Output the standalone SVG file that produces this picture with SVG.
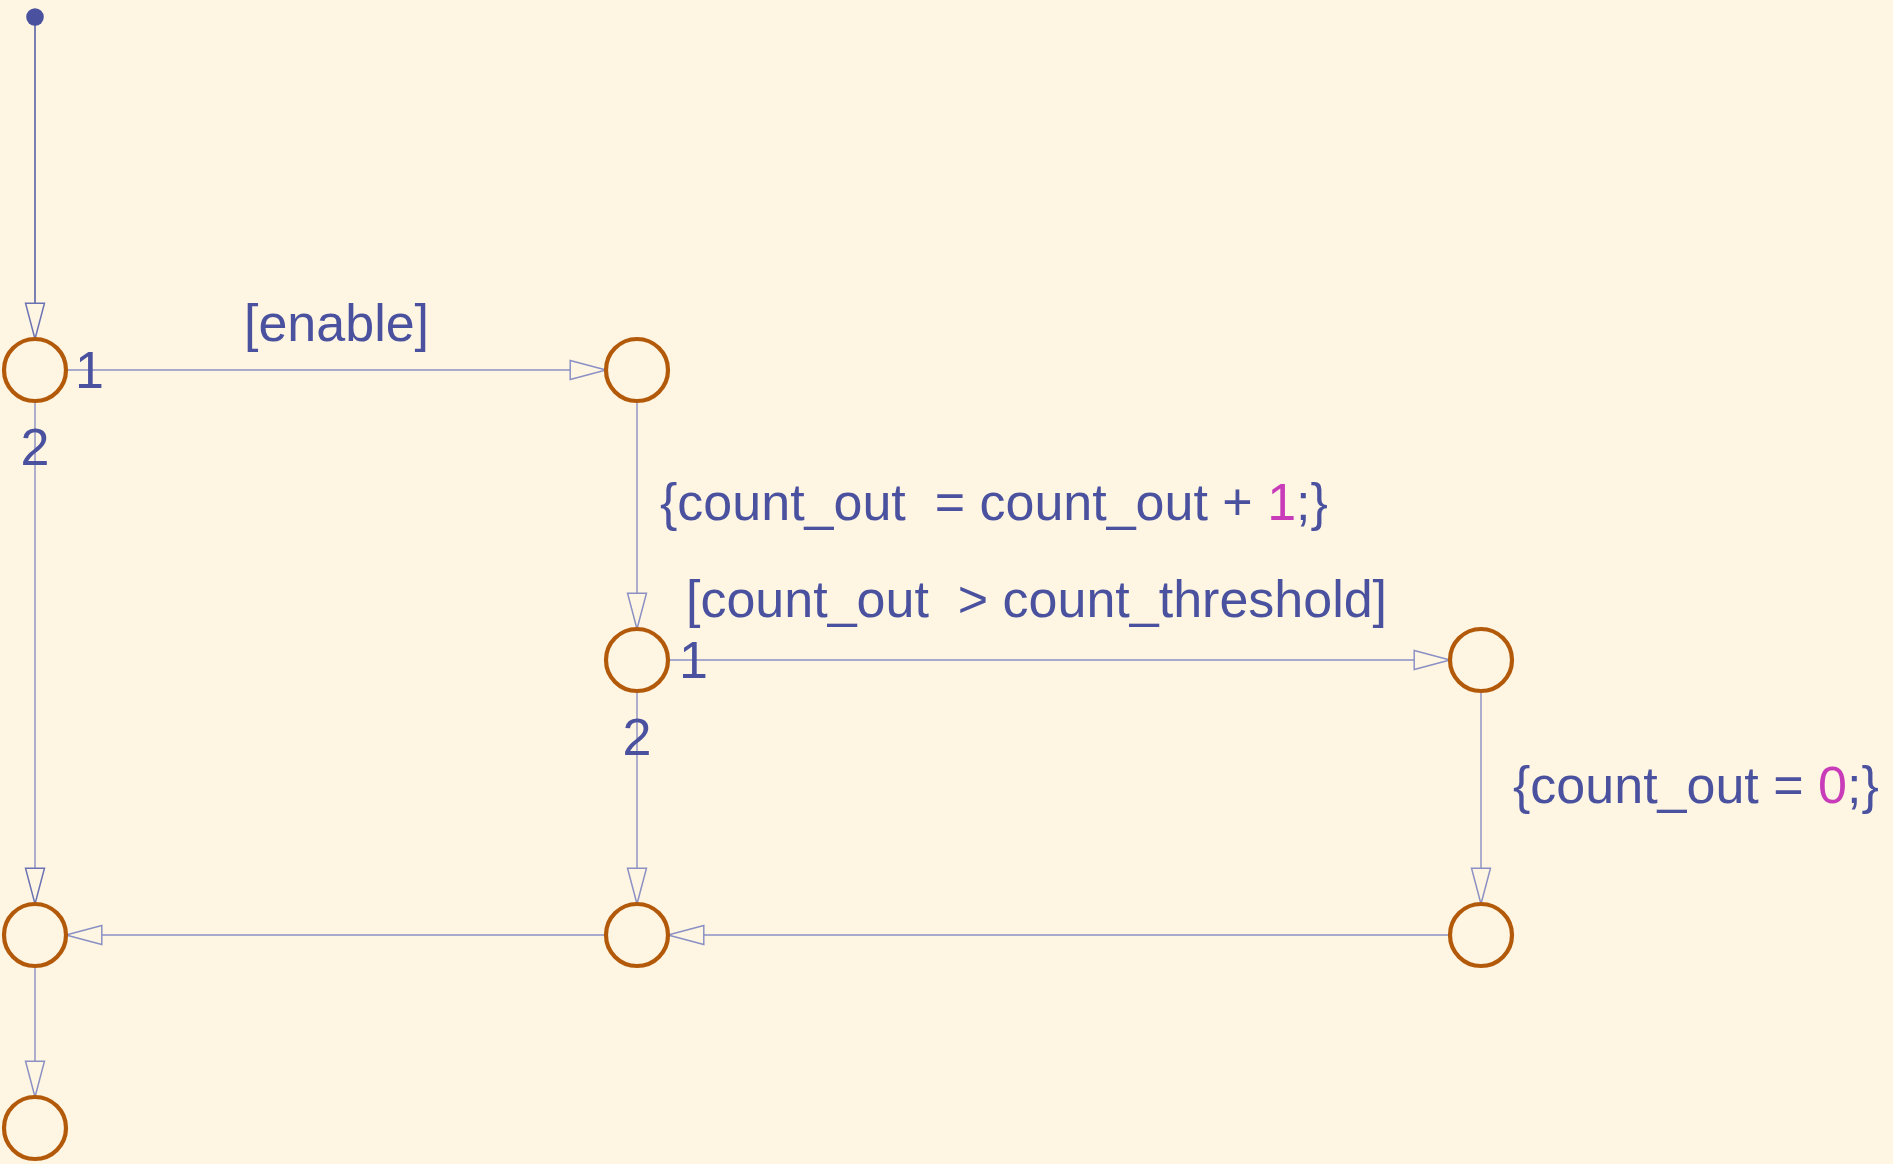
<svg xmlns="http://www.w3.org/2000/svg" width="1893" height="1164" viewBox="0 0 1893 1164">
<style>
.bg{fill:#fef5e2}
.j{fill:none;stroke:#b35a0a;stroke-width:4.2}
.c{fill:none;stroke:#8a90c4;stroke-width:1.4}
.c0{fill:none;stroke:#4f58a2;stroke-width:1.5}
.t{font-family:"Liberation Sans",Arial,sans-serif;font-size:52px;fill:#4a52a0;white-space:pre}
.n{fill:#c83cb9}
</style>
<defs>
<marker id="ah" markerUnits="userSpaceOnUse" markerWidth="40" markerHeight="24" viewBox="-36 -11 38 22" refX="0" refY="0" orient="auto">
<path d="M0,0 L-34,-9 L-34,9 Z" fill="#fef5e2" stroke="#8a90c4" stroke-width="1.4"/>
</marker>
<marker id="ah0" markerUnits="userSpaceOnUse" markerWidth="40" markerHeight="24" viewBox="-36 -11 38 22" refX="0" refY="0" orient="auto">
<path d="M0,0 L-34,-9 L-34,9 Z" fill="#fef5e2" stroke="#6a72b4" stroke-width="1.4"/>
</marker>
</defs>
<rect class="bg" x="0" y="0" width="1893" height="1164"/>
<g id="connectors">
<line class="c0" x1="35" y1="17" x2="35" y2="339" marker-end="url(#ah0)"/>
<line class="c" x1="66" y1="370" x2="606" y2="370" marker-end="url(#ah)"/>
<line class="c" x1="35" y1="401" x2="35" y2="904" marker-end="url(#ah0)"/>
<line class="c" x1="637" y1="401" x2="637" y2="629" marker-end="url(#ah)"/>
<line class="c" x1="668" y1="660" x2="1450" y2="660" marker-end="url(#ah)"/>
<line class="c" x1="637" y1="691" x2="637" y2="904" marker-end="url(#ah)"/>
<line class="c" x1="1481" y1="691" x2="1481" y2="904" marker-end="url(#ah)"/>
<line class="c" x1="1450" y1="935" x2="668" y2="935" marker-end="url(#ah)"/>
<line class="c" x1="606" y1="935" x2="66" y2="935" marker-end="url(#ah)"/>
<line class="c" x1="35" y1="966" x2="35" y2="1097" marker-end="url(#ah)"/>
<text class="t" x="244" y="341">[enable]</text>
<text class="t" x="660" y="520">{count_out  = count_out + <tspan class="n">1</tspan>;}</text>
<text class="t" x="686" y="617">[count_out  &gt; count_threshold]</text>
<text class="t" x="1513" y="803">{count_out = <tspan class="n">0</tspan>;}</text>
<text class="t" x="75" y="388">1</text>
<text class="t" x="35" y="465" text-anchor="middle">2</text>
<text class="t" x="679" y="678">1</text>
<text class="t" x="637" y="755" text-anchor="middle">2</text>
</g>
<g id="default"><circle cx="35" cy="17" r="8.8" fill="#4a52a0"/></g>
<g id="j1"><circle class="j" cx="35" cy="370" r="31"/></g>
<g id="j2"><circle class="j" cx="637" cy="370" r="31"/></g>
<g id="j3"><circle class="j" cx="637" cy="660" r="31"/></g>
<g id="j4"><circle class="j" cx="1481" cy="660" r="31"/></g>
<g id="j5"><circle class="j" cx="35" cy="935" r="31"/></g>
<g id="j6"><circle class="j" cx="637" cy="935" r="31"/></g>
<g id="j7"><circle class="j" cx="1481" cy="935" r="31"/></g>
<g id="j8"><circle class="j" cx="35" cy="1128" r="31"/></g>
</svg>
